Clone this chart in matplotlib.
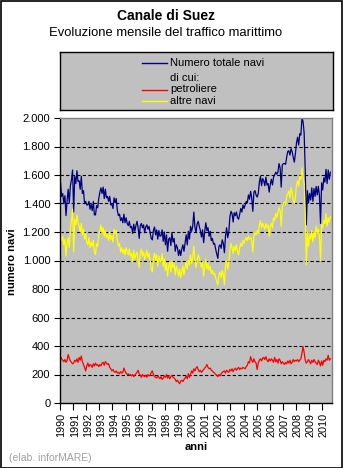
import numpy as np
import matplotlib
matplotlib.use("Agg")
import matplotlib.pyplot as plt
from matplotlib.patches import Rectangle
from matplotlib.ticker import FuncFormatter

plt.rcParams['font.family'] = ['Liberation Sans', 'DejaVu Sans']

# ==============================
# DATA (monthly, Jan 1990 - Aug 2010)
# ==============================

years = list(range(1990, 2011))

# altre navi (other ships)
altre_navi = [
    1220, 1140, 1170, 1110, 1150, 1030, 1120, 1160, 1090, 1230, 1280, 1360,  # 1990
    1060, 1290, 1250, 1320, 1270, 1240, 1200, 1260, 1180, 1220, 1150, 1190,  # 1991
    1130, 1110, 1160, 1090, 1130, 1100, 1140, 1060, 1040, 1120, 1100, 1180,  # 1992
    1210, 1250, 1190, 1230, 1170, 1210, 1160, 1180, 1140, 1200, 1150, 1170,  # 1993
    1130, 1220, 1190, 1210, 1140, 1100, 1120, 1060, 1090, 1050, 1080, 1040,  # 1994
    1090, 1060, 1040, 1080, 1030, 1050, 990, 1070, 1010, 1040, 1060, 1000,   # 1995
    950, 1050, 1080, 1030, 1060, 1010, 1040, 1070, 1020, 1050, 1000, 940,    # 1996
    920, 1010, 1050, 1000, 1040, 960, 1030, 1000, 990, 1050, 960, 1010,      # 1997
    930, 980, 890, 960, 990, 920, 1000, 950, 980, 900, 960, 930,             # 1998
    890, 940, 880, 920, 960, 900, 950, 990, 940, 1000, 970, 1040,            # 1999
    980, 1030, 1100, 1010, 950, 1000, 1040, 1020, 980, 950, 990, 890,        # 2000
    960, 1010, 940, 980, 930, 960, 910, 930, 900, 910, 880, 850,             # 2001
    830, 900, 920, 880, 930, 900, 830, 960, 1000, 940, 980, 1070,            # 2002
    1120, 1090, 1050, 1100, 1070, 1110, 1060, 1040, 1090, 1120, 1100, 1140,  # 2003
    1120, 1150, 1160, 1140, 1170, 1150, 1160, 1140, 1060, 1170, 1200, 1180,  # 2004
    1210, 1190, 1250, 1280, 1230, 1260, 1240, 1220, 1260, 1230, 1250, 1170,  # 2005
    1240, 1260, 1230, 1300, 1280, 1330, 1300, 1340, 1370, 1350, 1240, 1380,  # 2006
    1400, 1410, 1390, 1450, 1470, 1490, 1440, 1510, 1480, 1420, 1400, 1450,  # 2007
    1530, 1560, 1520, 1590, 1570, 1650, 1580, 1540, 1330, 970, 1200, 1100,   # 2008
    1180, 1150, 1210, 1130, 1200, 1160, 1240, 1190, 1220, 1170, 1000, 1250,  # 2009
    1230, 1280, 1260, 1330, 1240, 1300, 1270, 1310,                          # 2010
]

# petroliere (tankers)
petroliere = [
    325, 310, 300, 290, 305, 285, 300, 340, 315, 295, 285, 275,  # 1990
    280, 300, 290, 310, 285, 320, 300, 330, 290, 270, 250, 225,  # 1991
    260, 280, 255, 270, 265, 250, 275, 260, 280, 265, 270, 255,  # 1992
    270, 260, 280, 285, 265, 290, 280, 270, 275, 250, 240, 225,  # 1993
    235, 220, 215, 225, 210, 215, 205, 220, 210, 215, 245, 225,  # 1994
    210, 200, 205, 195, 200, 190, 200, 185, 195, 205, 215, 230,  # 1995
    205, 195, 180, 200, 190, 185, 195, 180, 200, 190, 195, 215,  # 1996
    225, 200, 185, 180, 175, 190, 180, 170, 185, 165, 175, 190,  # 1997
    180, 200, 175, 190, 170, 185, 195, 180, 175, 165, 150, 160,  # 1998
    145, 135, 155, 160, 150, 165, 175, 190, 170, 205, 180, 200,  # 1999
    225, 210, 240, 225, 245, 255, 235, 220, 230, 215, 225, 235,  # 2000
    245, 255, 270, 250, 240, 245, 230, 225, 215, 210, 200, 195,  # 2001
    185, 200, 190, 205, 215, 220, 225, 210, 230, 220, 215, 235,  # 2002
    225, 240, 220, 235, 245, 230, 240, 250, 235, 245, 240, 250,  # 2003
    245, 240, 255, 265, 290, 280, 325, 300, 285, 310, 290, 280,  # 2004
    235, 280, 300, 310, 295, 315, 320, 305, 325, 300, 290, 310,  # 2005
    295, 310, 300, 285, 320, 290, 305, 280, 310, 300, 275, 290,  # 2006
    280, 270, 285, 275, 295, 280, 300, 275, 285, 305, 290, 300,  # 2007
    295, 305, 290, 300, 310, 350, 395, 355, 300, 280, 290, 305,  # 2008
    290, 275, 300, 285, 305, 290, 280, 270, 300, 285, 260, 295,  # 2009
    265, 300, 290, 310, 300, 335, 300, 310,                      # 2010
]

# numero totale navi = petroliere + altre navi
totale = [p + a for p, a in zip(petroliere, altre_navi)]

months = np.arange(len(totale)) + 0.5

# ==============================
# FIGURE
# ==============================

W, H = 343, 468
fig = plt.figure(figsize=(W / 100, H / 100), dpi=100)
fig.patch.set_facecolor("white")
fig.patches.append(Rectangle((0.5 / W, 0.5 / H), 1 - 1.5 / W, 1 - 1.5 / H,
                             transform=fig.transFigure, fill=False,
                             edgecolor="black", lw=1.2))

fig.text(166 / W, 1 - 16 / H, "Canale di Suez", ha="center", va="center",
         fontsize=10, fontweight="bold")
fig.text(166 / W, 1 - 32.5 / H, "Evoluzione mensile del traffico marittimo",
         ha="center", va="center", fontsize=9.4)

# legend box
lg = fig.add_axes([60 / W, 1 - 110 / H, 273 / W, 58 / H])
lg.set_facecolor("#C0C0C0")
lg.set_xlim(0, 273)
lg.set_ylim(58, 0)
lg.set_xticks([])
lg.set_yticks([])
for s in lg.spines.values():
    s.set_color("black")
    s.set_linewidth(1)

rows = [("Numero totale navi", "#000080", 11), ("di cui:", None, 26),
        ("petroliere", "#FF0000", 37.5), ("altre navi", "#FFFF00", 49)]
for label, color, yy in rows:
    if color:
        lg.plot([82, 107], [yy, yy], color=color, lw=1)
    lg.text(110, yy, label, va="center", ha="left", fontsize=8)

# main plot
ax = fig.add_axes([60 / W, 1 - 403 / H, 272 / W, 285 / H])
ax.set_facecolor("#C0C0C0")

ax.plot(months, totale, color="#000080", lw=0.9)
ax.plot(months, altre_navi, color="#FFFF00", lw=0.9)
ax.plot(months, petroliere, color="#FF0000", lw=0.9)

ax.set_xlim(0, 249)
ax.set_ylim(0, 2000)

yt = np.arange(0, 2001, 200)
ax.set_yticks(yt)
ax.yaxis.set_major_formatter(FuncFormatter(lambda v, p: f"{int(v):,}".replace(",", ".")))
for v in yt[1:-1]:
    ax.axhline(v, color="black", lw=0.8, ls=(0, (3, 2)), zorder=1)

ax.set_xticks(np.arange(0, 241, 12))
ax.set_xticklabels([])
ax.set_xticks(np.arange(0, 241, 12) + 1.5, minor=True)
ax.set_xticklabels([str(y) for y in years], minor=True, rotation=90,
                   fontsize=7.8, va="top")
ax.tick_params(axis="x", which="major", direction="out", length=5, width=0.8)
ax.tick_params(axis="x", which="minor", length=0, pad=7)
ax.tick_params(axis="y", direction="out", length=4, width=0.8, labelsize=8, pad=3)

for side in ["left", "bottom"]:
    ax.spines[side].set_color("black")
    ax.spines[side].set_linewidth(1)
for side in ["top", "right"]:
    ax.spines[side].set_color("#808080")
    ax.spines[side].set_linewidth(1)

fig.text(12.5 / W, 1 - 262 / H, "numero navi", rotation=90, ha="center",
         va="center", fontsize=8, fontweight="bold")
fig.text(196 / W, 1 - 447 / H, "anni", ha="center", va="center",
         fontsize=8, fontweight="bold")
fig.text(9 / W, 1 - 458 / H, "(elab. inforMARE)", ha="left", va="center",
         fontsize=7.5, color="#A0A0A0")

fig.savefig("out.png", dpi=100)
